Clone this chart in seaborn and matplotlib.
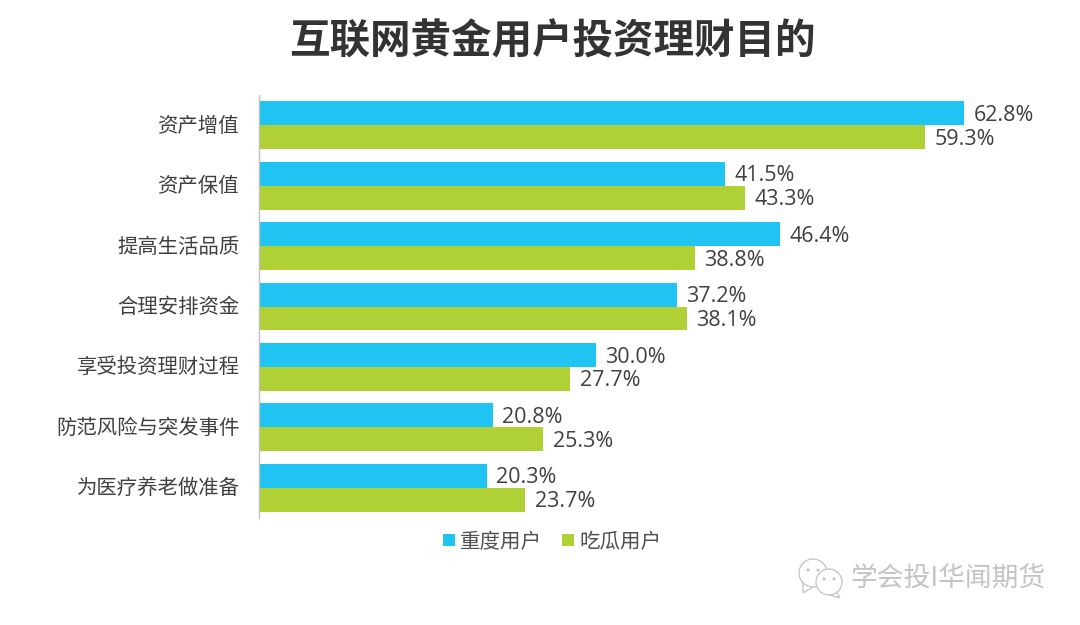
import pandas as pd
import matplotlib
matplotlib.use('Agg')
import matplotlib.pyplot as plt
from matplotlib.patches import Rectangle, Ellipse, Polygon
from matplotlib.transforms import ScaledTranslation
import seaborn as sns

# === DONNEES ===
CATEGORIES = ["资产增值", "资产保值", "提高生活品质", "合理安排资金", "享受投资理财过程", "防范风险与突发事件", "为医疗养老做准备"]
HEAVY = [62.8, 41.5, 46.4, 37.2, 30.0, 20.8, 20.3]
CASUAL = [59.3, 43.3, 38.8, 38.1, 27.7, 25.3, 23.7]
SERIES = ["重度用户", "吃瓜用户"]
TITLE = "互联网黄金用户投资理财目的"
WATERMARK = "学会投I华闻期货"

COLORS = ["#1FC4F2", "#AFD136"]
W, H = 1080, 625

sns.set_style("white")
plt.rcParams["font.family"] = ["Noto Sans CJK SC", "DejaVu Sans"]

df = pd.DataFrame({"cat": CATEGORIES * 2,
                   "serie": [SERIES[0]] * 7 + [SERIES[1]] * 7,
                   "val": HEAVY + CASUAL})


def fx(x):
    return x / W


def fy(y):
    return 1 - y / H


fig = plt.figure(figsize=(10.8, 6.25), dpi=100)
ax = fig.add_axes([fx(259), fy(518), fx(W - 259), (518 - 95) / H])
sns.barplot(data=df, y="cat", x="val", hue="serie", palette=COLORS, saturation=1,
            width=0.79, dodge=True, legend=False, linewidth=0, edgecolor="none", ax=ax)

ax.set_xlim(0, 821 / 11.23)
ax.set_ylim(6.5, -0.5)
ax.set_xlabel("")
ax.set_ylabel("")
ax.set_xticks([])
ax.tick_params(axis="y", length=0, pad=19, labelsize=14.7, labelcolor="#404040")
for s in ["top", "right", "bottom"]:
    ax.spines[s].set_visible(False)
ax.spines["left"].set_color("#BFBFBF")
ax.spines["left"].set_linewidth(1)

# remonte les libellés de 1-2 px
decale = ScaledTranslation(7 / 100, 1.5 / 100, fig.dpi_scale_trans)
for lab in ax.get_yticklabels():
    lab.set_transform(lab.get_transform() + decale)

# etiquettes de valeurs
for cont in ax.containers:
    txts = ax.bar_label(cont, fmt="%.1f%%", padding=6.8, fontsize=15.5, color="#404040",
                        family="Open Sans")
    for t in txts:
        # annotation : le décalage se fait en points
        t.xyann = (t.xyann[0], t.xyann[1] - 1.5)

fig.text(fx(552), fy(42), TITLE, ha="center", va="center", fontsize=29.2,
         fontweight="bold", color="#333333")

# legende
for x, c, lab in zip([443, 562], COLORS, SERIES):
    fig.add_artist(Rectangle((fx(x), fy(545.5)), 12 / W, 12 / H, transform=fig.transFigure,
                             facecolor=c, edgecolor="none"))
    fig.text(fx(x + 17), fy(542), lab, ha="left", va="center", fontsize=14.8, color="#505050")

# filigrane
for cx, cy, r, tail in [(813, 573, 14, [(803, 583), (803, 593), (813, 587)]),
                        (829, 582, 13, [(836, 592), (840, 598), (826, 594)])]:
    fig.add_artist(Polygon([(fx(a), fy(b)) for a, b in tail], transform=fig.transFigure,
                           facecolor="white", edgecolor="#C8C8C8", linewidth=1))
    fig.add_artist(Ellipse((fx(cx), fy(cy)), 2 * r / W, 2 * r / H, transform=fig.transFigure,
                           facecolor="white", edgecolor="#C8C8C8", linewidth=1))
    for dx in (-5, 5):
        fig.add_artist(Ellipse((fx(cx + dx), fy(cy - 3)), 3 / W, 3 / H, transform=fig.transFigure,
                               facecolor="#C0C0C0", edgecolor="none"))

fig.text(fx(850), fy(579), WATERMARK, ha="left", va="center", fontsize=19.3, color="#C4C4C4")

fig.savefig("out.png", dpi=100)
